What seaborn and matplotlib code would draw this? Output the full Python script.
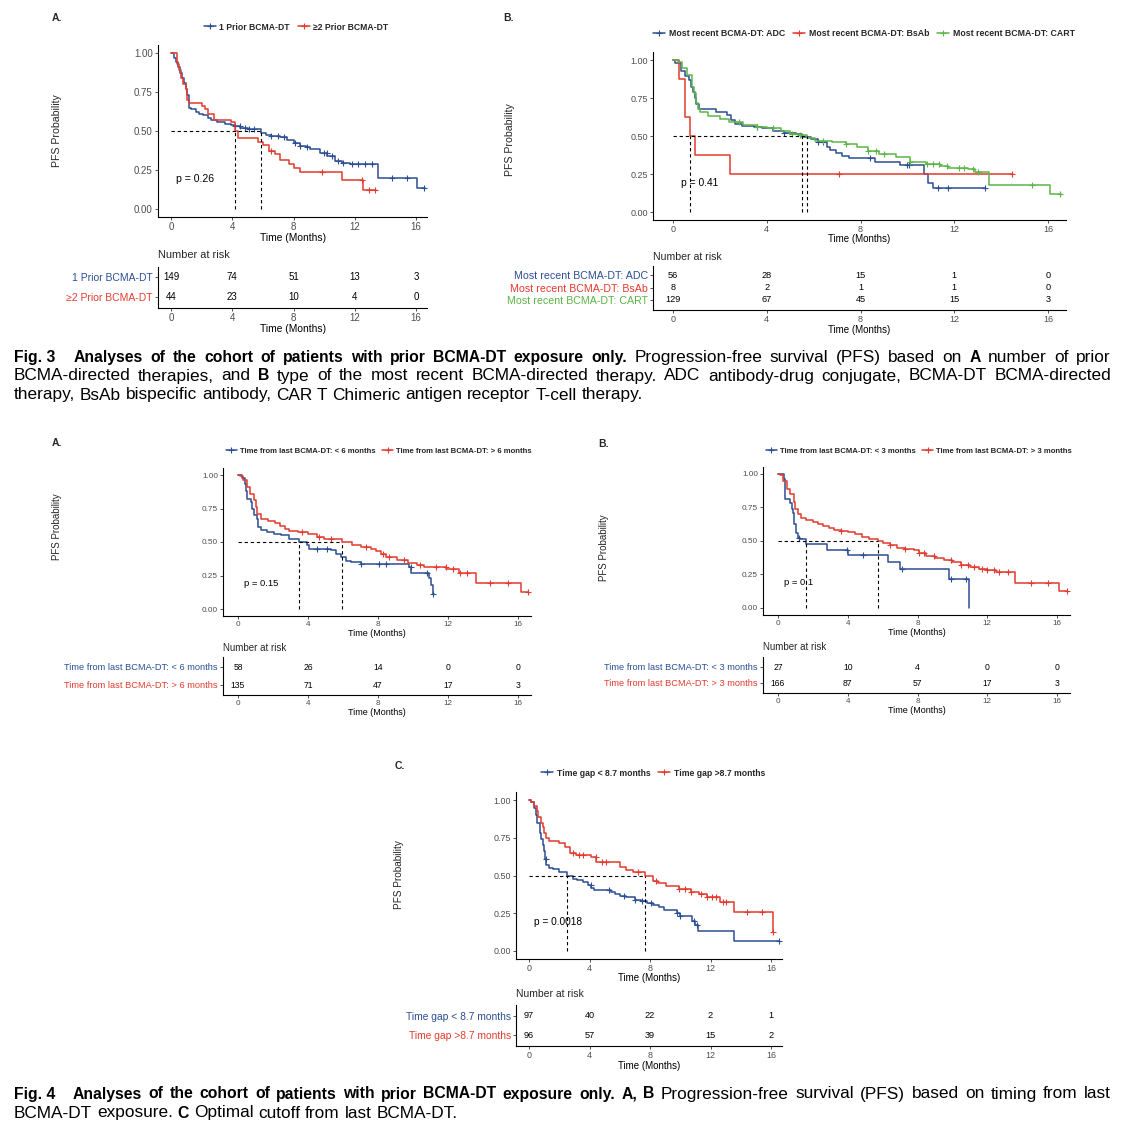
import numpy as np
import matplotlib.pyplot as plt
import seaborn as sns
from matplotlib.lines import Line2D
from matplotlib.ticker import FormatStrFormatter

# ---- data ----
RISK_TIMES = [0, 4, 8, 12, 16]

# Fig 3A: number of prior BCMA-DT
f3a_one_t = [0, 0.17, 0.3, 0.45, 0.6, 0.75, 0.87, 0.95, 1.04, 1.15, 1.3, 1.6, 1.8, 2.1, 2.4, 2.6, 3.0, 3.5, 3.9,
             4.1, 4.5, 5.0, 5.85, 6.2, 6.5, 7.1, 7.6, 8.0, 8.4, 8.8, 9.1, 9.7, 10.2, 10.7, 11.15, 11.7, 13.5, 16.05, 16.6]
f3a_one_s = [1.0, 0.97, 0.94, 0.91, 0.87, 0.84, 0.81, 0.77, 0.73, 0.65, 0.64, 0.62, 0.61, 0.60, 0.585, 0.57, 0.555,
             0.545, 0.54, 0.53, 0.52, 0.51, 0.49, 0.475, 0.47, 0.46, 0.445, 0.42, 0.405, 0.395, 0.385, 0.36, 0.34,
             0.305, 0.295, 0.29, 0.20, 0.135, 0.135]
f3a_one_cens = [4.2, 4.48, 4.85, 5.07, 5.4, 6.5, 7.0, 7.35, 8.1, 8.4, 8.87, 9.96, 10.17, 10.5, 10.93, 11.26, 11.8,
                12.24, 12.67, 13.1, 14.4, 15.4, 16.5]
f3a_two_t = [0, 0.4, 0.5, 0.65, 0.8, 0.95, 1.05, 1.2, 2.0, 2.2, 2.4, 2.8, 3.9, 4.15, 4.4, 5.7, 6.0, 6.4, 6.8, 7.1,
             7.7, 8.0, 8.4, 11.15, 12.55, 13.4]
f3a_two_s = [1.0, 0.93, 0.89, 0.84, 0.80, 0.77, 0.70, 0.68, 0.66, 0.64, 0.61, 0.57, 0.56, 0.50, 0.455, 0.43, 0.41,
             0.375, 0.35, 0.315, 0.29, 0.26, 0.235, 0.185, 0.12, 0.12]
f3a_two_cens = [6.5, 9.85, 12.45, 12.9, 13.3]
f3a_labels = ["1 Prior BCMA-DT", "\u22652 Prior BCMA-DT"]
f3a_risk = [[149, 74, 51, 13, 3], [44, 23, 10, 4, 0]]

# Fig 3B: type of most recent BCMA-DT
f3b_adc_t = [0, 0.1, 0.36, 0.52, 0.68, 0.77, 0.85, 0.93, 1.0, 1.1, 1.82, 2.3, 2.48, 2.64, 2.96, 3.45, 3.78, 4.27,
             4.75, 5.24, 5.49, 5.9, 6.2, 6.55, 6.7, 6.95, 7.2, 7.5, 8.6, 9.7, 10.7, 10.9, 11.1, 13.3]
f3b_adc_s = [1.0, 0.98, 0.93, 0.895, 0.87, 0.82, 0.79, 0.75, 0.71, 0.68, 0.66, 0.64, 0.605, 0.58, 0.565, 0.56,
             0.55, 0.53, 0.52, 0.51, 0.495, 0.48, 0.46, 0.43, 0.41, 0.39, 0.37, 0.355, 0.33, 0.31, 0.25, 0.19,
             0.155, 0.155]
f3b_adc_cens = [3.6, 4.75, 6.2, 6.4, 8.4, 10.0, 10.05, 11.3, 11.75, 13.3]
f3b_bsab_t = [0, 0.25, 0.5, 0.72, 0.95, 2.44, 14.5]
f3b_bsab_s = [1.0, 0.875, 0.625, 0.5, 0.375, 0.25, 0.25]
f3b_bsab_cens = [7.07, 14.48]
f3b_cart_t = [0, 0.2, 0.4, 0.6, 0.8, 0.9, 1.0, 1.05, 1.15, 1.5, 2.0, 2.4, 3.0, 3.6, 4.0, 4.6, 5.0, 5.4, 5.7, 6.06,
              6.8, 7.36, 7.85, 8.3, 8.8, 9.5, 10.1, 10.8, 11.4, 11.75, 12.6, 12.9, 13.5, 16.07, 16.56]
f3b_cart_s = [1.0, 0.99, 0.95, 0.90, 0.82, 0.78, 0.72, 0.68, 0.66, 0.63, 0.61, 0.595, 0.575, 0.56, 0.55, 0.53,
              0.515, 0.505, 0.49, 0.47, 0.46, 0.45, 0.43, 0.40, 0.38, 0.36, 0.33, 0.315, 0.305, 0.29, 0.28, 0.265,
              0.18, 0.12, 0.12]
f3b_cart_cens = [2.83, 3.6, 4.27, 5.08, 5.4, 6.4, 7.36, 8.3, 8.66, 9.0, 10.1, 10.85, 11.1, 11.35, 11.7, 12.2,
                 12.4, 12.8, 13.0, 15.3, 16.5]
f3b_labels = ["Most recent BCMA-DT: ADC", "Most recent BCMA-DT: BsAb", "Most recent BCMA-DT: CART"]
f3b_risk = [[56, 28, 15, 1, 0], [8, 2, 1, 1, 0], [129, 67, 45, 15, 3]]

# Fig 4A: time from last BCMA-DT, 6 month cut
f4a_lt_t = [0, 0.25, 0.38, 0.48, 0.53, 0.72, 0.82, 0.91, 1.07, 1.14, 1.3, 1.68, 2.06, 2.44, 2.9, 3.48, 3.96, 4.06,
            5.3, 5.6, 5.87, 6.15, 6.44, 7.0, 9.77, 9.9, 10.9, 11.04, 11.16, 11.2]
f4a_lt_s = [1.0, 0.98, 0.93, 0.88, 0.82, 0.80, 0.75, 0.70, 0.67, 0.61, 0.59, 0.575, 0.56, 0.55, 0.525, 0.50, 0.475,
            0.45, 0.44, 0.41, 0.39, 0.36, 0.35, 0.335, 0.31, 0.27, 0.23, 0.18, 0.11, 0.11]
f4a_lt_cens = [4.5, 5.1, 7.0, 8.06, 8.44, 9.87, 10.8, 11.16]
f4a_gt_t = [0, 0.1, 0.3, 0.5, 0.7, 0.9, 1.0, 1.1, 1.3, 1.7, 2.1, 2.4, 2.7, 2.9, 3.4, 4.0, 4.5, 4.9, 5.96, 6.5,
            7.0, 7.6, 7.9, 8.15, 8.44, 9.1, 9.7, 10.2, 10.6, 11.9, 12.6, 13.6, 16.15, 16.57]
f4a_gt_s = [1.0, 0.99, 0.96, 0.91, 0.86, 0.81, 0.76, 0.71, 0.675, 0.66, 0.64, 0.62, 0.60, 0.58, 0.575, 0.56, 0.54,
            0.525, 0.50, 0.475, 0.465, 0.45, 0.43, 0.41, 0.39, 0.365, 0.345, 0.33, 0.31, 0.295, 0.27, 0.195, 0.13,
            0.13]
f4a_gt_cens = [3.68, 4.6, 5.3, 7.3, 8.3, 8.6, 9.5, 10.4, 11.3, 11.87, 12.3, 12.7, 13.1, 14.4, 15.4, 16.57]
f4a_labels = ["Time from last BCMA-DT: < 6 months", "Time from last BCMA-DT: > 6 months"]
f4a_risk = [[58, 26, 14, 0, 0], [135, 71, 47, 17, 3]]

# Fig 4B: time from last BCMA-DT, 3 month cut
f4b_lt_t = [0, 0.33, 0.38, 0.71, 0.8, 0.86, 0.94, 1.03, 1.13, 1.25, 1.6, 2.8, 4.0, 6.3, 7.0, 9.8, 10.95]
f4b_lt_s = [1.0, 0.963, 0.815, 0.78, 0.74, 0.71, 0.63, 0.56, 0.52, 0.515, 0.475, 0.435, 0.395, 0.345, 0.29, 0.215,
            0.0]
f4b_lt_cens = [1.2, 3.97, 4.9, 7.1, 9.9, 10.77]
f4b_gt_t = [0, 0.1, 0.3, 0.5, 0.7, 0.9, 1.0, 1.15, 1.3, 1.6, 2.0, 2.3, 2.6, 2.9, 3.2, 3.6, 4.0, 4.4, 4.8, 5.2,
            5.73, 6.0, 6.4, 6.8, 7.3, 7.8, 8.1, 8.5, 9.0, 9.5, 10.0, 10.5, 11.0, 11.5, 12.0, 12.5, 13.6, 16.1, 16.6]
f4b_gt_s = [1.0, 0.99, 0.95, 0.89, 0.85, 0.79, 0.74, 0.70, 0.675, 0.66, 0.645, 0.63, 0.61, 0.595, 0.58, 0.575,
            0.565, 0.55, 0.53, 0.515, 0.50, 0.485, 0.47, 0.45, 0.44, 0.43, 0.41, 0.39, 0.375, 0.355, 0.34, 0.32,
            0.305, 0.29, 0.28, 0.265, 0.185, 0.125, 0.125]
f4b_gt_cens = [3.6, 6.45, 7.3, 8.1, 8.4, 8.95, 9.9, 10.5, 10.9, 11.25, 11.7, 12.0, 12.4, 12.7, 13.2, 14.5, 15.5,
               16.6]
f4b_labels = ["Time from last BCMA-DT: < 3 months", "Time from last BCMA-DT: > 3 months"]
f4b_risk = [[27, 10, 4, 0, 0], [166, 87, 57, 17, 3]]

# Fig 4C: optimal cutoff 8.7 months
f4c_lt_t = [0, 0.1, 0.3, 0.45, 0.55, 0.7, 0.8, 0.9, 1.0, 1.05, 1.15, 1.3, 1.6, 2.0, 2.5, 2.9, 3.2, 3.6, 3.9, 4.1,
            4.3, 5.4, 5.7, 6.0, 6.4, 7.0, 7.4, 7.8, 8.2, 8.6, 8.9, 9.8, 10.0, 10.8, 11.0, 11.2, 13.55, 16.5]
f4c_lt_s = [1.0, 0.99, 0.95, 0.90, 0.85, 0.78, 0.74, 0.70, 0.66, 0.61, 0.57, 0.55, 0.54, 0.525, 0.50, 0.48, 0.47,
            0.46, 0.44, 0.42, 0.405, 0.39, 0.38, 0.365, 0.355, 0.34, 0.33, 0.32, 0.305, 0.29, 0.27, 0.25, 0.23,
            0.20, 0.17, 0.135, 0.066, 0.066]
f4c_lt_cens = [1.14, 4.07, 5.3, 6.3, 7.0, 7.5, 8.07, 9.8, 10.0, 10.9, 11.1, 16.5]
f4c_gt_t = [0, 0.1, 0.3, 0.5, 0.6, 0.8, 0.9, 1.0, 1.14, 1.3, 2.0, 2.4, 2.7, 3.1, 4.1, 4.45, 6.0, 6.4, 6.85, 7.67,
            8.2, 8.5, 9.05, 9.9, 10.7, 11.25, 11.8, 12.6, 13.55, 16.1]
f4c_gt_s = [1.0, 0.99, 0.96, 0.93, 0.89, 0.85, 0.82, 0.78, 0.75, 0.73, 0.715, 0.69, 0.65, 0.635, 0.62, 0.59, 0.555,
            0.535, 0.52, 0.50, 0.465, 0.45, 0.43, 0.41, 0.39, 0.375, 0.355, 0.325, 0.26, 0.125]
f4c_gt_cens = [2.9, 3.3, 3.6, 4.44, 4.83, 5.1, 7.2, 8.4, 9.9, 10.3, 10.7, 11.4, 11.8, 12.1, 12.35, 12.8, 13.0,
               14.4, 15.4, 16.1]
f4c_labels = ["Time gap < 8.7 months", "Time gap >8.7 months"]
f4c_risk = [[97, 40, 22, 2, 1], [96, 57, 39, 15, 2]]

p_values = {"3A": "p = 0.26", "3B": "p = 0.41", "4A": "p = 0.15", "4B": "p = 0.1", "4C": "p = 0.0018"}

BLUE = "#2C4E93"
RED = "#E33B2E"
GREEN = "#5CB547"
TICK_GRAY = "#4D4D4D"

W, H = 1128, 1136
XLO, XHI = -0.85, 16.75
YLO, YHI = -0.05, 1.05

sns.set_theme(style="ticks")
plt.rcParams['font.family'] = ['Liberation Sans', 'DejaVu Sans']
plt.rcParams['axes.linewidth'] = 0.8

fig = plt.figure(figsize=(W / 100, H / 100), dpi=100)


def box(l, t, r, b):
    return [l / W, 1 - b / H, (r - l) / W, (b - t) / H]


def step_at(t, s, x):
    i = np.searchsorted(t, x, side='right') - 1
    return np.asarray(s)[i]


def median_of(t, s):
    for ti, si in zip(t, s):
        if si <= 0.5:
            return ti
    return None


def km_panel(x0, x16, y1, y0, groups, labels, colors, risk, pval, fs,
             letter, letter_xy, legend_xy, ylab_xy, tbl_top, tbl_bottom, tbl_rows, nar_y):
    ppm = (x16 - x0) / 16
    ppu = y0 - y1
    left, right = x0 + XLO * ppm, x0 + XHI * ppm
    top, bottom = y1 - (YHI - 1) * ppu, y0 - YLO * ppu
    ax = fig.add_axes(box(left, top, right, bottom))

    handles = []
    for (t, s, cens), c in zip(groups, colors):
        sns.lineplot(x=t, y=s, drawstyle='steps-post', color=c, lw=1.1, estimator=None, sort=False, ax=ax)
        ax.plot(cens, step_at(t, s, cens), ls='none', marker='+', ms=4, mew=0.8, color=c)
        handles.append(Line2D([0], [0], color=c, lw=1.1, marker='+', ms=4, mew=0.8))

    # median lines
    meds = [median_of(t, s) for t, s, _ in groups]
    meds = [m for m in meds if m is not None]
    ax.plot([0, max(meds)], [0.5, 0.5], ls=(0, (3, 2.5)), color='black', lw=0.8)
    for m in meds:
        ax.plot([m, m], [0, 0.5], ls=(0, (3, 2.5)), color='black', lw=0.8)

    ax.text(0.33, 0.19, pval, fontsize=fs['p'], ha='left', va='center', color='black')

    ax.set_xlim(XLO, XHI)
    ax.set_ylim(YLO, YHI)
    ax.set_xticks(RISK_TIMES)
    ax.set_yticks([0, 0.25, 0.5, 0.75, 1.0])
    ax.yaxis.set_major_formatter(FormatStrFormatter('%.2f'))
    ax.tick_params(length=2.5, width=0.6, pad=1.2, labelsize=fs['tick'], labelcolor=TICK_GRAY, color='#333333')
    ax.set_xlabel("Time (Months)", fontsize=fs['xlab'], labelpad=0.5, color='black')
    ax.set_ylabel("")
    sns.despine(ax=ax)
    for sp in ('left', 'bottom'):
        ax.spines[sp].set_color('black')
        ax.spines[sp].set_linewidth(0.8)

    fig.legend(handles, labels, loc='center', bbox_to_anchor=(legend_xy[0] / W, 1 - legend_xy[1] / H),
               ncol=len(labels), frameon=False, prop={'weight': 'bold', 'size': fs['leg']},
               handlelength=1.4, handletextpad=0.4, columnspacing=0.9, borderaxespad=0)
    fig.text(letter_xy[0] / W, 1 - letter_xy[1] / H, letter, fontsize=fs['letter'], fontweight='bold',
             ha='left', va='center')
    fig.text(ylab_xy[0] / W, 1 - ylab_xy[1] / H, "PFS Probability", fontsize=fs['ylab'], rotation=90,
             ha='center', va='center')

    # risk table
    tb = fig.add_axes(box(left, tbl_top, right, tbl_bottom))
    n = len(labels)
    r0 = tbl_rows[0]
    dr = (tbl_rows[-1] - tbl_rows[0]) / (n - 1)
    tb.set_xlim(XLO, XHI)
    tb.set_ylim((tbl_bottom - r0) / dr, (tbl_top - r0) / dr)
    for i, row in enumerate(risk):
        for tt, v in zip(RISK_TIMES, row):
            tb.text(tt, i, str(v), ha='center', va='center', fontsize=fs['num'], color='black')
    tb.set_yticks(range(n))
    tb.set_yticklabels(labels)
    tb.set_xticks(RISK_TIMES)
    tb.tick_params(length=2.5, width=0.6, pad=1.2, labelsize=fs['tick'], labelcolor=TICK_GRAY, color='#333333')
    tb.tick_params(axis='y', labelsize=fs['tlab'])
    for lbl, c in zip(tb.get_yticklabels(), colors):
        lbl.set_color(c)
    tb.set_xlabel("Time (Months)", fontsize=fs['xlab'], labelpad=0.5, color='black')
    sns.despine(ax=tb)
    for sp in ('left', 'bottom'):
        tb.spines[sp].set_color('black')
        tb.spines[sp].set_linewidth(0.8)
    fig.text(left / W, 1 - nar_y / H, "Number at risk", fontsize=fs['nar'], ha='left', va='center')


fs3a = dict(tick=7.0, num=7.0, xlab=7.4, leg=6.2, tlab=7.5, p=7.6, nar=7.9, ylab=7.6, letter=7.5)
fs3b = dict(tick=6.5, num=6.6, xlab=7.0, leg=6.3, tlab=7.7, p=7.4, nar=7.6, ylab=7.6, letter=7.5)
fs4ab = dict(tick=5.9, num=6.2, xlab=6.5, leg=5.55, tlab=6.7, p=6.8, nar=7.0, ylab=7.0, letter=7.5)
fs4c = dict(tick=6.4, num=6.6, xlab=7.0, leg=6.2, tlab=7.4, p=7.3, nar=7.5, ylab=7.2, letter=7.5)

km_panel(171, 416, 53, 209,
         [(f3a_one_t, f3a_one_s, f3a_one_cens), (f3a_two_t, f3a_two_s, f3a_two_cens)],
         f3a_labels, [BLUE, RED], f3a_risk, p_values["3A"], fs3a,
         "A.", (52, 18), (296, 27), (57, 131), 267, 308, [277, 297], 255)

km_panel(673, 1048, 60, 212,
         [(f3b_adc_t, f3b_adc_s, f3b_adc_cens), (f3b_bsab_t, f3b_bsab_s, f3b_bsab_cens),
          (f3b_cart_t, f3b_cart_s, f3b_cart_cens)],
         f3b_labels, [BLUE, RED, GREEN], f3b_risk, p_values["3B"], fs3b,
         "B.", (503, 18), (864, 34), (510, 140), 266, 310, [275, 300], 257)

km_panel(238, 518, 475, 609,
         [(f4a_lt_t, f4a_lt_s, f4a_lt_cens), (f4a_gt_t, f4a_gt_s, f4a_gt_cens)],
         f4a_labels, [BLUE, RED], f4a_risk, p_values["4A"], fs4ab,
         "A.", (52, 443), (379, 451), (57, 527), 657, 695, [667, 685], 648)

km_panel(778, 1057, 474, 608,
         [(f4b_lt_t, f4b_lt_s, f4b_lt_cens), (f4b_gt_t, f4b_gt_s, f4b_gt_cens)],
         f4b_labels, [BLUE, RED], f4b_risk, p_values["4B"], fs4ab,
         "B.", (598, 444), (919, 451), (604, 548), 657, 693, [667, 683], 647)

km_panel(529, 771, 800, 951,
         [(f4c_lt_t, f4c_lt_s, f4c_lt_cens), (f4c_gt_t, f4c_gt_s, f4c_gt_cens)],
         f4c_labels, [BLUE, RED], f4c_risk, p_values["4C"], fs4c,
         "C.", (395, 766), (653, 773), (399, 875), 1005, 1046, [1016, 1035], 994)

# ---- captions (justified word by word) ----
CAP_FONT = ['Liberation Sans', 'DejaVu Sans']
CAP_SIZE_BOLD = 11.3
CAP_SIZE_REG = 12.4

cap3_lines = [
    [("Fig. 3", True), ("Analyses of the cohort of patients with prior BCMA-DT exposure only.", True),
     ("Progression-free survival (PFS) based on", False), ("A", True), ("number of prior", False)],
    [("BCMA-directed therapies, and", False), ("B", True),
     ("type of the most recent BCMA-directed therapy. ADC antibody-drug conjugate, BCMA-DT BCMA-directed", False)],
    [("therapy, BsAb bispecific antibody, CAR T Chimeric antigen receptor T-cell therapy.", False)],
]
cap4_lines = [
    [("Fig. 4", True), ("Analyses of the cohort of patients with prior BCMA-DT exposure only. A, B", True),
     ("Progression-free survival (PFS) based on timing from last", False)],
    [("BCMA-DT exposure.", False), ("C", True), ("Optimal cutoff from last BCMA-DT.", False)],
]

renderer = fig.canvas.get_renderer()


def caption_line(y, segments, justify, x_left=14, x_right=1111):
    words = []
    for txt, bold in segments:
        if txt.startswith("Fig."):
            words.append((txt, bold, 11))
        else:
            for w in txt.split():
                words.append((w, bold, 0))
    arts = [fig.text(0, 1 - y / H, w, fontsize=CAP_SIZE_BOLD if b else CAP_SIZE_REG, family=CAP_FONT,
                     fontweight='bold' if b else 'normal', ha='left', va='center', color='black')
            for w, b, _ in words]
    widths = [a.get_window_extent(renderer).width for a in arts]
    extra = sum(e for _, _, e in words)
    if justify and len(arts) > 1:
        gap = (x_right - x_left - sum(widths) - extra) / (len(arts) - 1)
    else:
        gap = CAP_SIZE_REG * 0.28 * 100 / 72
    x = x_left
    for a, w, (_, _, e) in zip(arts, widths, words):
        a.set_x(x / W)
        x += w + gap + e


for i, (line, yy) in enumerate(zip(cap3_lines, [357, 376, 395])):
    caption_line(yy, line, justify=(i < 2))
for i, (line, yy) in enumerate(zip(cap4_lines, [1094, 1113])):
    caption_line(yy, line, justify=(i < 1))

fig.savefig("out.png", dpi=100)
